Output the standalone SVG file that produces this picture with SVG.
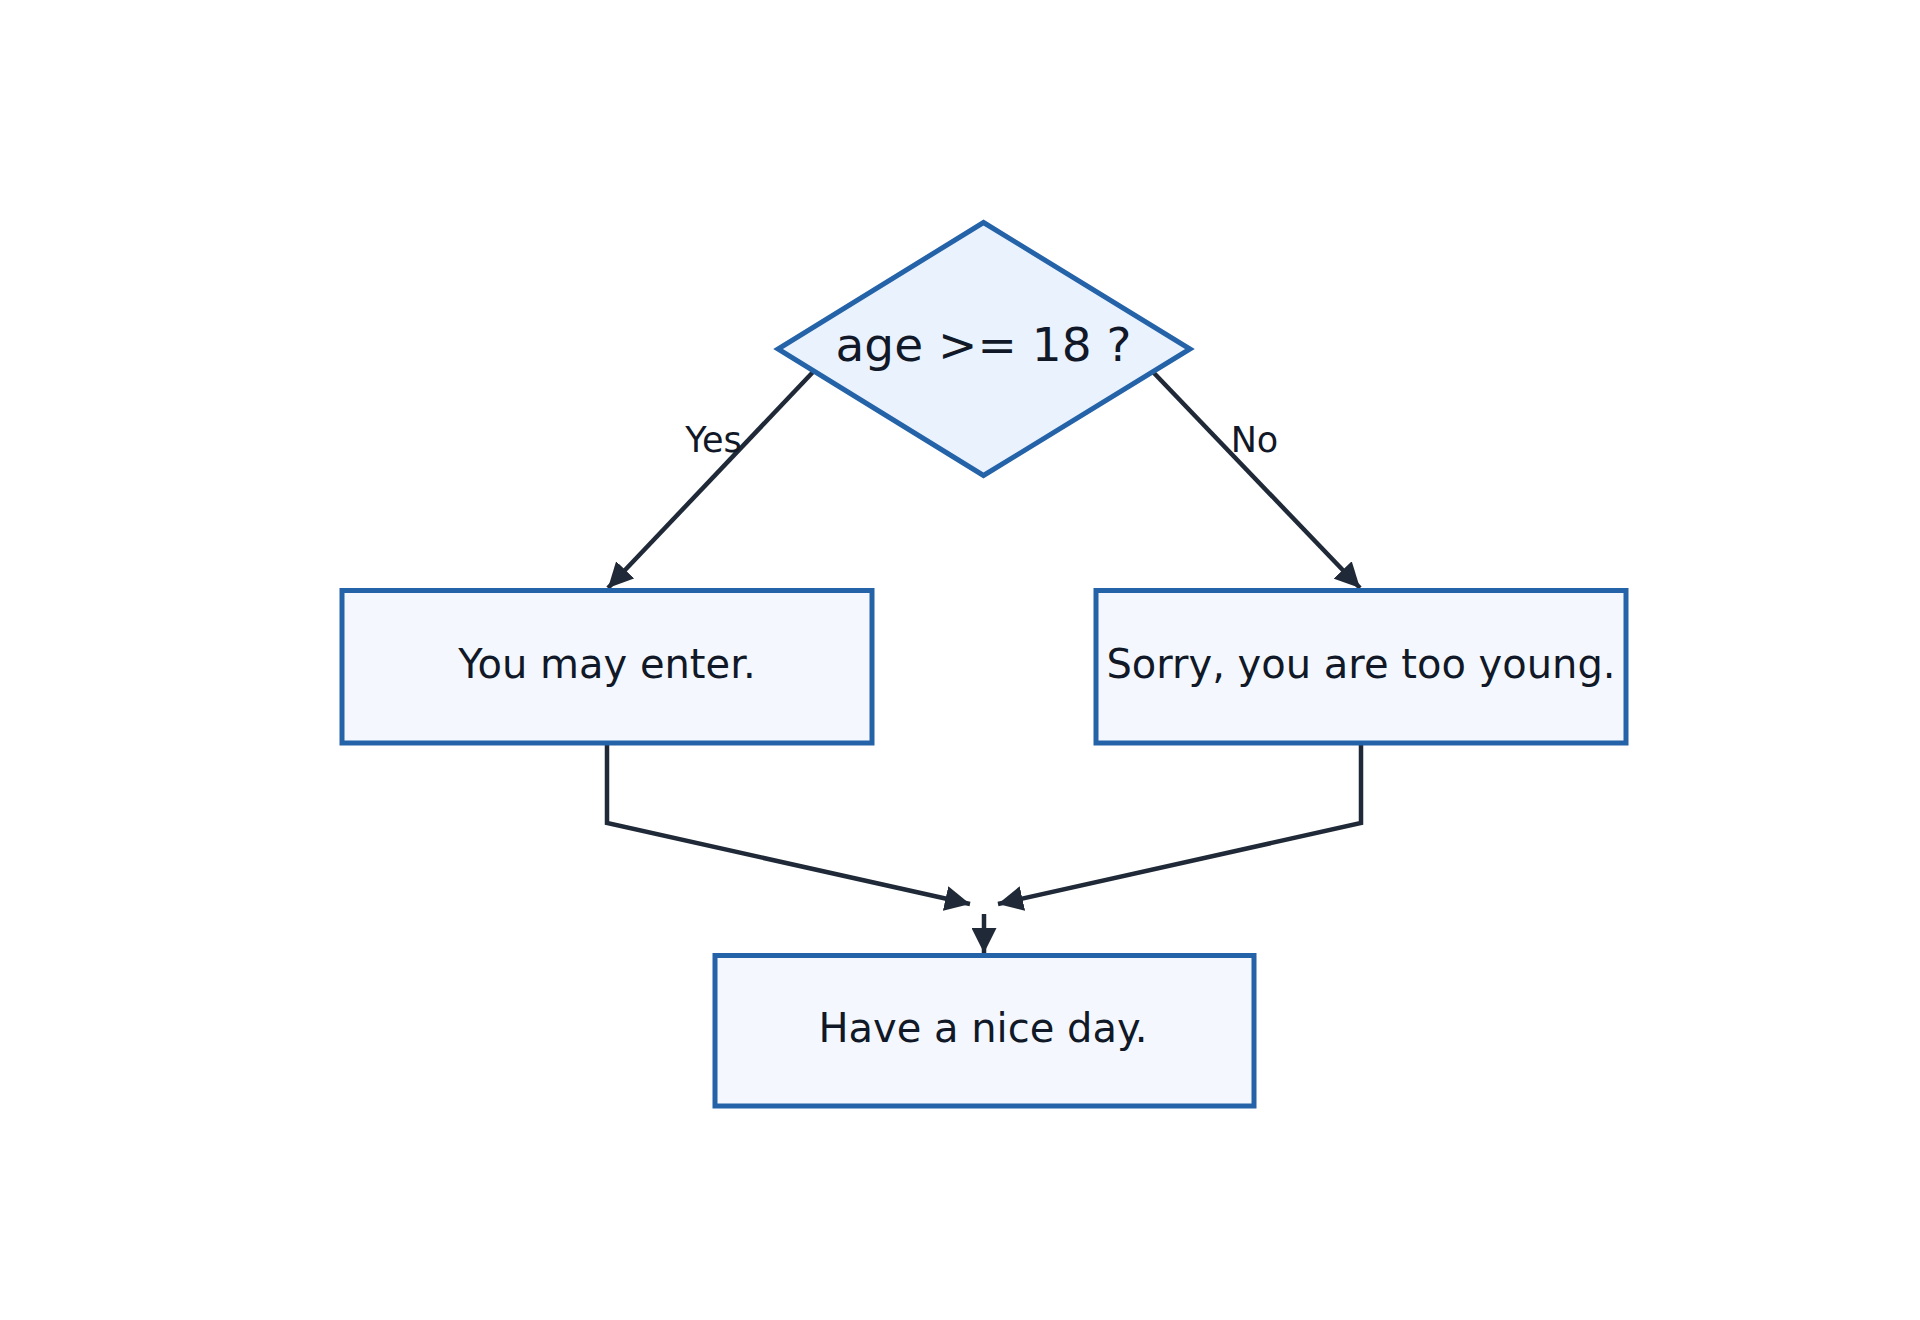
<svg xmlns="http://www.w3.org/2000/svg" width="1920" height="1320" viewBox="0 0 1920 1320">
  <style>
    .node { stroke: #2563a8; stroke-width: 5; }
    .box { fill: #f4f8fe; }
    .dec { fill: #eaf2fe; }
    .txt { font-family: "DejaVu Sans", "Liberation Sans", sans-serif; fill: #111827; text-anchor: middle; }
    .edge { fill: none; stroke: #1f2937; stroke-width: 4.5; }
    .lbl { font-family: "DejaVu Sans", "Liberation Sans", sans-serif; fill: #111827; font-size: 35px; }
  </style>
  <defs>
    <marker id="arrow" markerUnits="userSpaceOnUse" markerWidth="25" markerHeight="25" viewBox="0 0 25 25" refX="25" refY="12.5" orient="auto">
      <path d="M0,0 L25,12.5 L0,25 Z" fill="#1f2937"/>
    </marker>
  </defs>
  <rect width="1920" height="1320" fill="#ffffff"/>

  <g id="connectors">
    <line class="edge" x1="813" y1="372" x2="608" y2="588" marker-end="url(#arrow)"/>
    <line class="edge" x1="1153" y1="372" x2="1360" y2="588" marker-end="url(#arrow)"/>
    <polyline class="edge" points="607,743 607,823 970,904" marker-end="url(#arrow)"/>
    <polyline class="edge" points="1361,743 1361,823 998,904" marker-end="url(#arrow)"/>
    <line class="edge" x1="984" y1="914" x2="984" y2="953" marker-end="url(#arrow)"/>
    <text class="lbl" x="713.5" y="452" text-anchor="middle">Yes</text>
    <text class="lbl" x="1254.5" y="452" text-anchor="middle">No</text>
  </g>

  <g id="decision">
    <polygon class="node dec" points="983.5,222.5 1190,349 983.5,475.5 778,349"/>
    <text class="txt" x="983.5" y="361" font-size="47">age &gt;= 18 ?</text>
  </g>

  <g id="enter">
    <rect class="node box" x="342" y="590.5" width="530" height="152.5"/>
    <text class="txt" x="607" y="678" font-size="40">You may enter.</text>
  </g>

  <g id="young">
    <rect class="node box" x="1096" y="590.5" width="530" height="152.5"/>
    <text class="txt" x="1361" y="678" font-size="40">Sorry, you are too young.</text>
  </g>

  <g id="niceday">
    <rect class="node box" x="715" y="955.5" width="539" height="150.5"/>
    <text class="txt" x="983" y="1042" font-size="40">Have a nice day.</text>
  </g>
</svg>
